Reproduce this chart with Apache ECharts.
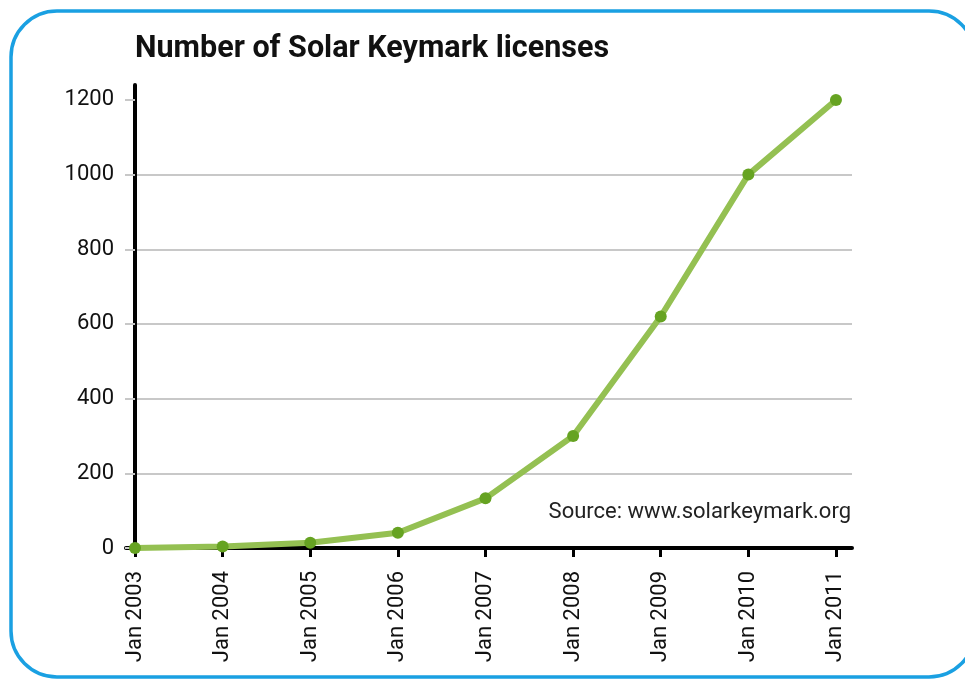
<!DOCTYPE html>
<html>
<head>
<meta charset="utf-8">
<script src="https://cdn.jsdelivr.net/npm/echarts@6/dist/echarts.min.js"></script>
<style>
  html, body { margin: 0; padding: 0; background: #fff; }
  #chart { width: 965px; height: 679px; }
</style>
</head>
<body>
<div id="chart"></div>
<script>
// years along the x axis and licence counts
const years = [2003, 2004, 2005, 2006, 2007, 2008, 2009, 2010, 2011];
const licenses = [0, 4, 14, 41, 133, 300, 620, 1000, 1200];
const yTicks = [0, 200, 400, 600, 800, 1000, 1200];

const data = years.map((y, i) => [y, licenses[i]]);

const myChart = echarts.init(document.getElementById('chart'));
myChart.setOption({
  animation: false,
  textStyle: {fontFamily: 'Roboto'},
  title: {
    text: 'Number of Solar Keymark licenses',
    left: 135,
    top: 34,
    padding: 0,
    textStyle: {fontFamily: 'Roboto', fontWeight: 'bold', fontSize: 30.5, color: '#111'}
  },
  graphic: [
    {
      type: 'rect',
      shape: {x: 11, y: 11, width: 964, height: 666, r: 46},
      style: {fill: 'none', stroke: '#1aa0e2', lineWidth: 3.5},
      z: -1
    },
    {
      type: 'text',
      right: 114,
      top: 501,
      style: {text: 'Source: www.solarkeymark.org', fontFamily: 'Roboto', fontSize: 22, fill: '#222'}
    }
  ],
  grid: {left: 126, right: 113, top: 85, bottom: 131},
  xAxis: {
    type: 'value',
    min: 2002.897,
    max: 2011.183,
    axisLine: {lineStyle: {color: '#000', width: 4}},
    axisTick: {
      customValues: years,
      length: 9,
      lineStyle: {color: '#000', width: 3}
    },
    axisLabel: {
      customValues: years,
      rotate: 90,
      margin: 23,
      fontSize: 22,
      color: '#111',
      formatter: (v) => 'Jan ' + v
    },
    splitLine: {show: false}
  },
  yAxis: {
    type: 'value',
    min: 0,
    max: 1240,
    interval: 200,
    offset: -9,
    axisLine: {show: true, lineStyle: {color: '#000', width: 4}},
    axisTick: {
      show: true,
      customValues: yTicks,
      length: 10,
      lineStyle: {color: '#c8c8c8', width: 2}
    },
    axisLabel: {
      customValues: yTicks,
      margin: 21,
      fontSize: 22,
      color: '#111',
      formatter: (v) => String(v)
    },
    splitLine: {show: true, showMaxLine: false, lineStyle: {color: '#c8c8c8', width: 2}}
  },
  series: [
    {
      type: 'line',
      data: data,
      symbol: 'circle',
      symbolSize: 12,
      lineStyle: {color: '#94c052', width: 6},
      itemStyle: {color: '#66a322'}
    }
  ]
});
</script>
</body>
</html>
